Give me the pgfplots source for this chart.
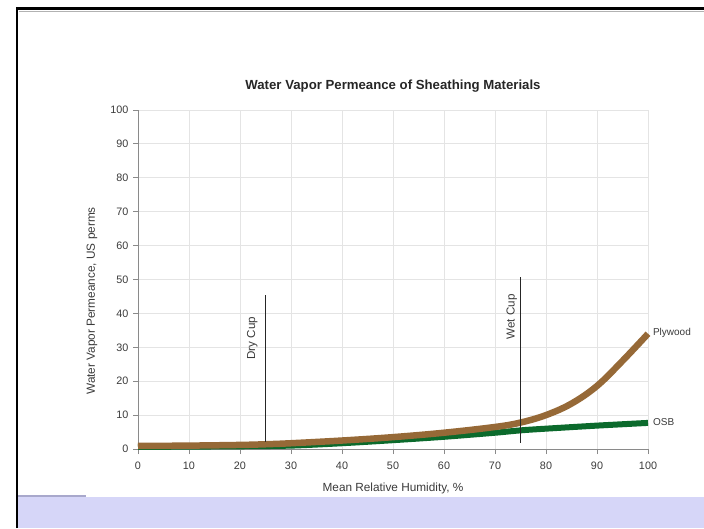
\documentclass[border=0pt]{standalone}
\usepackage{pgfplots}
\pgfplotsset{compat=1.18}
\usepackage{fontspec}
\setmainfont{Liberation Sans}
\definecolor{lav}{HTML}{D6D6F8}
\definecolor{lavline}{HTML}{A8A8CC}
\definecolor{ply}{HTML}{966937}
\definecolor{osb}{HTML}{0B6A2C}
\definecolor{txt}{HTML}{3A3A3A}
\definecolor{gridc}{HTML}{E4E4E4}
\definecolor{axc}{HTML}{8A8A8A}
\begin{document}
\begin{tikzpicture}
\path[use as bounding box] (0pt,0pt) rectangle (704pt,528pt);
\fill[lav] (17pt,0pt) rectangle (704pt,31pt);
\draw[lavline, line width=1.2pt] (17pt,32pt) -- (86pt,32pt);
\draw[gray!60, line width=1pt] (19pt,516.8pt) -- (704pt,516.8pt);
\draw[black, line width=2.6pt] (17pt,0pt) -- (17pt,519.5pt) -- (704pt,519.5pt);
\begin{axis}[
  at={(138pt,79pt)}, anchor=south west,
  scale only axis, width=510pt, height=339pt,
  xmin=0, xmax=100, ymin=0, ymax=100,
  xtick={0,10,...,100}, ytick={0,10,...,100},
  grid=major, major grid style={gridc, line width=0.8pt},
  axis x line*=bottom, axis y line*=left,
  axis line style={axc, line width=0.9pt},
  tick style={axc, line width=0.8pt},
  tick align=outside, major tick length=5pt,
  tick label style={font=\fontsize{10.8}{12}\selectfont, text=txt},
  /pgf/number format/assume math mode=true,
  xticklabel style={yshift=-4pt},
  yticklabel style={xshift=-1pt},
  title={\textbf{Water Vapor Permeance of Sheathing Materials}},
  title style={font=\fontsize{13.2}{15}\selectfont, text=black!85, at={(axis description cs:0.5,1.0)}, anchor=south, yshift=8pt},
  xlabel={Mean Relative Humidity, \%},
  ylabel={Water Vapor Permeance, US perms},
  label style={font=\fontsize{11.8}{13}\selectfont, text=txt},
  xlabel style={at={(axis description cs:0.5,0)}, anchor=center, yshift=-39pt},
  ylabel style={at={(axis description cs:-0.09,0.437)}, anchor=center, rotate=0},
  clip=false,
]
\addplot[osb, line width=6pt, smooth, tension=0.5] coordinates {
(0,0.6) (10,0.7) (20,0.8) (30,1.0) (40,1.7) (50,2.6) (60,3.6) (70,4.8) (75,5.5) (80,6.0) (90,6.9) (100,7.7)};
\addplot[ply, line width=6.5pt, smooth, tension=0.6] coordinates {
(0,0.9) (10,1.0) (20,1.2) (25,1.4) (30,1.7) (40,2.5) (50,3.5) (60,4.8) (70,6.5) (75,7.8) (80,10.0) (85,13.4) (90,18.6) (95,26) (100,34)};
\addplot[black!85, line width=1.6pt] coordinates {(25,2.2) (25,45.4)};
\addplot[black!85, line width=1.6pt] coordinates {(75,1.8) (75,50.7)};
\node[rotate=90, font=\fontsize{11.6}{13}\selectfont, text=txt] at (axis cs:22.4,32.7) {Dry Cup};
\node[rotate=90, font=\fontsize{11.6}{13}\selectfont, text=txt] at (axis cs:73.3,39) {Wet Cup};
\node[anchor=west, font=\fontsize{10}{12}\selectfont, text=txt] at (axis cs:100.3,34.2) {Plywood};
\node[anchor=west, font=\fontsize{10}{12}\selectfont, text=txt] at (axis cs:100.3,7.9) {OSB};
\end{axis}
\end{tikzpicture}
\end{document}
